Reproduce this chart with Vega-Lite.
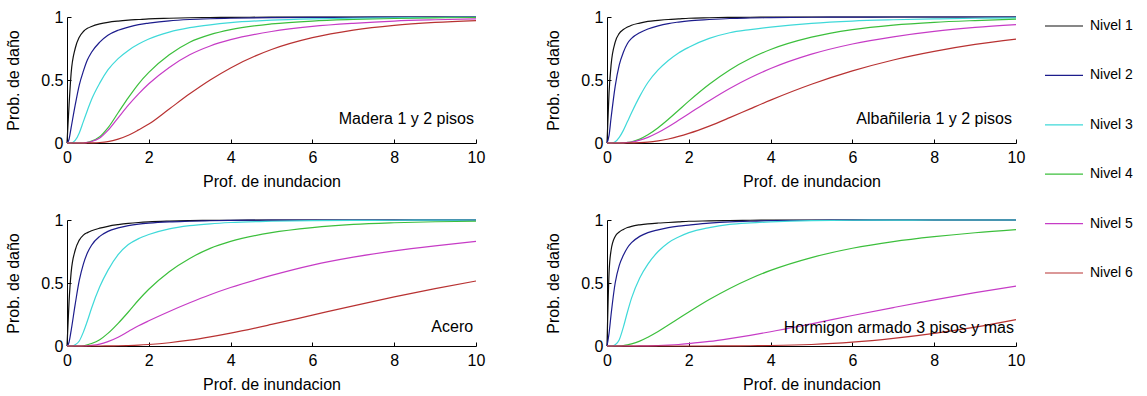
{
  "$schema": "https://vega.github.io/schema/vega-lite/v6.json",
  "padding": {"left": 5, "top": 6, "right": 5, "bottom": 5},
  "background": "white",
  "config": {
    "view": {"stroke": null},
    "font": "Liberation Sans",
    "axis": {
      "grid": false,
      "domainColor": "#000000",
      "tickColor": "#000000",
      "labelColor": "#000000",
      "titleColor": "#000000",
      "labelFont": "Liberation Sans",
      "titleFont": "Liberation Sans",
      "labelFontSize": 16,
      "titleFontSize": 16,
      "titleFontWeight": "normal",
      "tickSize": -4,
      "domainWidth": 1,
      "tickWidth": 1,
      "labelFlush": false
    },
    "axisX": {"labelPadding": 10, "titlePadding": 8},
    "axisY": {"labelPadding": 8, "titlePadding": 19},
    "legend": {"labelFont": "Liberation Sans", "labelFontSize": 14, "labelColor": "#000000"}
  },
  "data": {
    "values": [
      {"t":"Madera 1 y 2 pisos","x":0,"Nivel 1":0,"Nivel 2":0,"Nivel 3":0,"Nivel 4":0,"Nivel 5":0,"Nivel 6":0},
      {"t":"Madera 1 y 2 pisos","x":0.05,"Nivel 1":0.30,"Nivel 2":0.03,"Nivel 3":0,"Nivel 4":0,"Nivel 5":0,"Nivel 6":0},
      {"t":"Madera 1 y 2 pisos","x":0.1,"Nivel 1":0.55,"Nivel 2":0.12,"Nivel 3":0,"Nivel 4":0,"Nivel 5":0,"Nivel 6":0},
      {"t":"Madera 1 y 2 pisos","x":0.2,"Nivel 1":0.75,"Nivel 2":0.30,"Nivel 3":0.02,"Nivel 4":0,"Nivel 5":0,"Nivel 6":0},
      {"t":"Madera 1 y 2 pisos","x":0.3,"Nivel 1":0.84,"Nivel 2":0.46,"Nivel 3":0.08,"Nivel 4":0,"Nivel 5":0,"Nivel 6":0},
      {"t":"Madera 1 y 2 pisos","x":0.4,"Nivel 1":0.885,"Nivel 2":0.57,"Nivel 3":0.17,"Nivel 4":0,"Nivel 5":0,"Nivel 6":0},
      {"t":"Madera 1 y 2 pisos","x":0.5,"Nivel 1":0.91,"Nivel 2":0.66,"Nivel 3":0.26,"Nivel 4":0.005,"Nivel 5":0.005,"Nivel 6":0},
      {"t":"Madera 1 y 2 pisos","x":0.6,"Nivel 1":0.925,"Nivel 2":0.72,"Nivel 3":0.345,"Nivel 4":0.015,"Nivel 5":0.012,"Nivel 6":0.001},
      {"t":"Madera 1 y 2 pisos","x":0.8,"Nivel 1":0.945,"Nivel 2":0.80,"Nivel 3":0.475,"Nivel 4":0.05,"Nivel 5":0.04,"Nivel 6":0.004},
      {"t":"Madera 1 y 2 pisos","x":1,"Nivel 1":0.958,"Nivel 2":0.855,"Nivel 3":0.58,"Nivel 4":0.12,"Nivel 5":0.10,"Nivel 6":0.011},
      {"t":"Madera 1 y 2 pisos","x":1.25,"Nivel 1":0.968,"Nivel 2":0.895,"Nivel 3":0.67,"Nivel 4":0.24,"Nivel 5":0.20,"Nivel 6":0.031},
      {"t":"Madera 1 y 2 pisos","x":1.5,"Nivel 1":0.975,"Nivel 2":0.92,"Nivel 3":0.735,"Nivel 4":0.36,"Nivel 5":0.30,"Nivel 6":0.062},
      {"t":"Madera 1 y 2 pisos","x":1.75,"Nivel 1":0.98,"Nivel 2":0.94,"Nivel 3":0.785,"Nivel 4":0.47,"Nivel 5":0.39,"Nivel 6":0.104},
      {"t":"Madera 1 y 2 pisos","x":2,"Nivel 1":0.985,"Nivel 2":0.952,"Nivel 3":0.825,"Nivel 4":0.56,"Nivel 5":0.47,"Nivel 6":0.15},
      {"t":"Madera 1 y 2 pisos","x":2.5,"Nivel 1":0.99,"Nivel 2":0.97,"Nivel 3":0.88,"Nivel 4":0.70,"Nivel 5":0.60,"Nivel 6":0.27},
      {"t":"Madera 1 y 2 pisos","x":3,"Nivel 1":0.994,"Nivel 2":0.98,"Nivel 3":0.915,"Nivel 4":0.80,"Nivel 5":0.70,"Nivel 6":0.39},
      {"t":"Madera 1 y 2 pisos","x":3.5,"Nivel 1":0.996,"Nivel 2":0.986,"Nivel 3":0.938,"Nivel 4":0.86,"Nivel 5":0.77,"Nivel 6":0.50},
      {"t":"Madera 1 y 2 pisos","x":4,"Nivel 1":0.997,"Nivel 2":0.99,"Nivel 3":0.955,"Nivel 4":0.90,"Nivel 5":0.82,"Nivel 6":0.596},
      {"t":"Madera 1 y 2 pisos","x":5,"Nivel 1":0.999,"Nivel 2":0.995,"Nivel 3":0.975,"Nivel 4":0.945,"Nivel 5":0.885,"Nivel 6":0.742},
      {"t":"Madera 1 y 2 pisos","x":6,"Nivel 1":1,"Nivel 2":0.997,"Nivel 3":0.985,"Nivel 4":0.968,"Nivel 5":0.925,"Nivel 6":0.836},
      {"t":"Madera 1 y 2 pisos","x":7,"Nivel 1":1,"Nivel 2":0.998,"Nivel 3":0.99,"Nivel 4":0.98,"Nivel 5":0.95,"Nivel 6":0.896},
      {"t":"Madera 1 y 2 pisos","x":8,"Nivel 1":1,"Nivel 2":0.999,"Nivel 3":0.994,"Nivel 4":0.988,"Nivel 5":0.968,"Nivel 6":0.934},
      {"t":"Madera 1 y 2 pisos","x":9,"Nivel 1":1,"Nivel 2":1,"Nivel 3":0.996,"Nivel 4":0.993,"Nivel 5":0.978,"Nivel 6":0.957},
      {"t":"Madera 1 y 2 pisos","x":10,"Nivel 1":1,"Nivel 2":1,"Nivel 3":0.998,"Nivel 4":0.996,"Nivel 5":0.985,"Nivel 6":0.972},

      {"t":"Albañileria 1 y 2 pisos","x":0,"Nivel 1":0,"Nivel 2":0,"Nivel 3":0,"Nivel 4":0,"Nivel 5":0,"Nivel 6":0},
      {"t":"Albañileria 1 y 2 pisos","x":0.05,"Nivel 1":0.40,"Nivel 2":0.06,"Nivel 3":0,"Nivel 4":0,"Nivel 5":0,"Nivel 6":0},
      {"t":"Albañileria 1 y 2 pisos","x":0.1,"Nivel 1":0.62,"Nivel 2":0.20,"Nivel 3":0,"Nivel 4":0,"Nivel 5":0,"Nivel 6":0},
      {"t":"Albañileria 1 y 2 pisos","x":0.2,"Nivel 1":0.80,"Nivel 2":0.45,"Nivel 3":0.01,"Nivel 4":0,"Nivel 5":0,"Nivel 6":0},
      {"t":"Albañileria 1 y 2 pisos","x":0.3,"Nivel 1":0.87,"Nivel 2":0.62,"Nivel 3":0.045,"Nivel 4":0,"Nivel 5":0,"Nivel 6":0},
      {"t":"Albañileria 1 y 2 pisos","x":0.4,"Nivel 1":0.90,"Nivel 2":0.72,"Nivel 3":0.10,"Nivel 4":0.001,"Nivel 5":0.001,"Nivel 6":0},
      {"t":"Albañileria 1 y 2 pisos","x":0.5,"Nivel 1":0.92,"Nivel 2":0.79,"Nivel 3":0.17,"Nivel 4":0.005,"Nivel 5":0.004,"Nivel 6":0},
      {"t":"Albañileria 1 y 2 pisos","x":0.6,"Nivel 1":0.935,"Nivel 2":0.83,"Nivel 3":0.24,"Nivel 4":0.01,"Nivel 5":0.008,"Nivel 6":0.001},
      {"t":"Albañileria 1 y 2 pisos","x":0.8,"Nivel 1":0.952,"Nivel 2":0.875,"Nivel 3":0.37,"Nivel 4":0.031,"Nivel 5":0.023,"Nivel 6":0.003},
      {"t":"Albañileria 1 y 2 pisos","x":1,"Nivel 1":0.965,"Nivel 2":0.905,"Nivel 3":0.48,"Nivel 4":0.065,"Nivel 5":0.045,"Nivel 6":0.007},
      {"t":"Albañileria 1 y 2 pisos","x":1.25,"Nivel 1":0.973,"Nivel 2":0.93,"Nivel 3":0.58,"Nivel 4":0.121,"Nivel 5":0.083,"Nivel 6":0.017},
      {"t":"Albañileria 1 y 2 pisos","x":1.5,"Nivel 1":0.98,"Nivel 2":0.948,"Nivel 3":0.655,"Nivel 4":0.188,"Nivel 5":0.129,"Nivel 6":0.032},
      {"t":"Albañileria 1 y 2 pisos","x":1.75,"Nivel 1":0.985,"Nivel 2":0.96,"Nivel 3":0.715,"Nivel 4":0.26,"Nivel 5":0.18,"Nivel 6":0.052},
      {"t":"Albañileria 1 y 2 pisos","x":2,"Nivel 1":0.99,"Nivel 2":0.97,"Nivel 3":0.76,"Nivel 4":0.332,"Nivel 5":0.232,"Nivel 6":0.076},
      {"t":"Albañileria 1 y 2 pisos","x":2.5,"Nivel 1":0.994,"Nivel 2":0.98,"Nivel 3":0.83,"Nivel 4":0.466,"Nivel 5":0.336,"Nivel 6":0.134},
      {"t":"Albañileria 1 y 2 pisos","x":3,"Nivel 1":0.997,"Nivel 2":0.988,"Nivel 3":0.875,"Nivel 4":0.58,"Nivel 5":0.433,"Nivel 6":0.201},
      {"t":"Albañileria 1 y 2 pisos","x":3.5,"Nivel 1":0.998,"Nivel 2":0.992,"Nivel 3":0.90,"Nivel 4":0.67,"Nivel 5":0.518,"Nivel 6":0.271},
      {"t":"Albañileria 1 y 2 pisos","x":4,"Nivel 1":0.999,"Nivel 2":0.995,"Nivel 3":0.92,"Nivel 4":0.742,"Nivel 5":0.591,"Nivel 6":0.34},
      {"t":"Albañileria 1 y 2 pisos","x":5,"Nivel 1":1,"Nivel 2":0.998,"Nivel 3":0.95,"Nivel 4":0.84,"Nivel 5":0.705,"Nivel 6":0.466},
      {"t":"Albañileria 1 y 2 pisos","x":6,"Nivel 1":1,"Nivel 2":0.999,"Nivel 3":0.968,"Nivel 4":0.90,"Nivel 5":0.786,"Nivel 6":0.572},
      {"t":"Albañileria 1 y 2 pisos","x":7,"Nivel 1":1,"Nivel 2":1,"Nivel 3":0.978,"Nivel 4":0.936,"Nivel 5":0.843,"Nivel 6":0.659},
      {"t":"Albañileria 1 y 2 pisos","x":8,"Nivel 1":1,"Nivel 2":1,"Nivel 3":0.985,"Nivel 4":0.958,"Nivel 5":0.886,"Nivel 6":0.727},
      {"t":"Albañileria 1 y 2 pisos","x":9,"Nivel 1":1,"Nivel 2":1,"Nivel 3":0.99,"Nivel 4":0.972,"Nivel 5":0.917,"Nivel 6":0.782},
      {"t":"Albañileria 1 y 2 pisos","x":10,"Nivel 1":1,"Nivel 2":1,"Nivel 3":0.993,"Nivel 4":0.983,"Nivel 5":0.94,"Nivel 6":0.825},

      {"t":"Acero","x":0,"Nivel 1":0,"Nivel 2":0,"Nivel 3":0,"Nivel 4":0,"Nivel 5":0,"Nivel 6":0},
      {"t":"Acero","x":0.05,"Nivel 1":0.35,"Nivel 2":0.03,"Nivel 3":0,"Nivel 4":0,"Nivel 5":0,"Nivel 6":0},
      {"t":"Acero","x":0.1,"Nivel 1":0.58,"Nivel 2":0.12,"Nivel 3":0,"Nivel 4":0,"Nivel 5":0,"Nivel 6":0},
      {"t":"Acero","x":0.2,"Nivel 1":0.76,"Nivel 2":0.33,"Nivel 3":0.01,"Nivel 4":0,"Nivel 5":0,"Nivel 6":0},
      {"t":"Acero","x":0.3,"Nivel 1":0.84,"Nivel 2":0.52,"Nivel 3":0.04,"Nivel 4":0,"Nivel 5":0,"Nivel 6":0},
      {"t":"Acero","x":0.4,"Nivel 1":0.88,"Nivel 2":0.65,"Nivel 3":0.11,"Nivel 4":0.002,"Nivel 5":0,"Nivel 6":0},
      {"t":"Acero","x":0.5,"Nivel 1":0.90,"Nivel 2":0.74,"Nivel 3":0.20,"Nivel 4":0.01,"Nivel 5":0.002,"Nivel 6":0},
      {"t":"Acero","x":0.6,"Nivel 1":0.915,"Nivel 2":0.80,"Nivel 3":0.30,"Nivel 4":0.02,"Nivel 5":0.005,"Nivel 6":0},
      {"t":"Acero","x":0.8,"Nivel 1":0.935,"Nivel 2":0.87,"Nivel 3":0.47,"Nivel 4":0.05,"Nivel 5":0.015,"Nivel 6":0},
      {"t":"Acero","x":1,"Nivel 1":0.95,"Nivel 2":0.91,"Nivel 3":0.60,"Nivel 4":0.10,"Nivel 5":0.035,"Nivel 6":0.001},
      {"t":"Acero","x":1.25,"Nivel 1":0.963,"Nivel 2":0.937,"Nivel 3":0.725,"Nivel 4":0.18,"Nivel 5":0.07,"Nivel 6":0.002},
      {"t":"Acero","x":1.5,"Nivel 1":0.973,"Nivel 2":0.955,"Nivel 3":0.805,"Nivel 4":0.27,"Nivel 5":0.115,"Nivel 6":0.004},
      {"t":"Acero","x":1.75,"Nivel 1":0.98,"Nivel 2":0.967,"Nivel 3":0.852,"Nivel 4":0.365,"Nivel 5":0.16,"Nivel 6":0.007},
      {"t":"Acero","x":2,"Nivel 1":0.985,"Nivel 2":0.975,"Nivel 3":0.885,"Nivel 4":0.45,"Nivel 5":0.20,"Nivel 6":0.012},
      {"t":"Acero","x":2.5,"Nivel 1":0.991,"Nivel 2":0.985,"Nivel 3":0.93,"Nivel 4":0.59,"Nivel 5":0.274,"Nivel 6":0.026},
      {"t":"Acero","x":3,"Nivel 1":0.995,"Nivel 2":0.99,"Nivel 3":0.955,"Nivel 4":0.695,"Nivel 5":0.343,"Nivel 6":0.046},
      {"t":"Acero","x":3.5,"Nivel 1":0.997,"Nivel 2":0.994,"Nivel 3":0.97,"Nivel 4":0.775,"Nivel 5":0.407,"Nivel 6":0.072},
      {"t":"Acero","x":4,"Nivel 1":0.998,"Nivel 2":0.997,"Nivel 3":0.98,"Nivel 4":0.83,"Nivel 5":0.464,"Nivel 6":0.102},
      {"t":"Acero","x":5,"Nivel 1":1,"Nivel 2":0.999,"Nivel 3":0.99,"Nivel 4":0.90,"Nivel 5":0.56,"Nivel 6":0.171},
      {"t":"Acero","x":6,"Nivel 1":1,"Nivel 2":1,"Nivel 3":0.995,"Nivel 4":0.94,"Nivel 5":0.642,"Nivel 6":0.245},
      {"t":"Acero","x":7,"Nivel 1":1,"Nivel 2":1,"Nivel 3":0.997,"Nivel 4":0.965,"Nivel 5":0.705,"Nivel 6":0.319},
      {"t":"Acero","x":8,"Nivel 1":1,"Nivel 2":1,"Nivel 3":0.998,"Nivel 4":0.978,"Nivel 5":0.755,"Nivel 6":0.39},
      {"t":"Acero","x":9,"Nivel 1":1,"Nivel 2":1,"Nivel 3":0.999,"Nivel 4":0.986,"Nivel 5":0.795,"Nivel 6":0.456},
      {"t":"Acero","x":10,"Nivel 1":1,"Nivel 2":1,"Nivel 3":1,"Nivel 4":0.99,"Nivel 5":0.83,"Nivel 6":0.516},

      {"t":"Hormigon armado 3 pisos y mas","x":0,"Nivel 1":0,"Nivel 2":0,"Nivel 3":0,"Nivel 4":0,"Nivel 5":0,"Nivel 6":0},
      {"t":"Hormigon armado 3 pisos y mas","x":0.05,"Nivel 1":0.58,"Nivel 2":0.10,"Nivel 3":0,"Nivel 4":0,"Nivel 5":0,"Nivel 6":0},
      {"t":"Hormigon armado 3 pisos y mas","x":0.1,"Nivel 1":0.76,"Nivel 2":0.25,"Nivel 3":0,"Nivel 4":0,"Nivel 5":0,"Nivel 6":0},
      {"t":"Hormigon armado 3 pisos y mas","x":0.2,"Nivel 1":0.87,"Nivel 2":0.50,"Nivel 3":0.01,"Nivel 4":0,"Nivel 5":0,"Nivel 6":0},
      {"t":"Hormigon armado 3 pisos y mas","x":0.3,"Nivel 1":0.905,"Nivel 2":0.64,"Nivel 3":0.05,"Nivel 4":0.001,"Nivel 5":0,"Nivel 6":0},
      {"t":"Hormigon armado 3 pisos y mas","x":0.4,"Nivel 1":0.925,"Nivel 2":0.72,"Nivel 3":0.15,"Nivel 4":0.004,"Nivel 5":0,"Nivel 6":0},
      {"t":"Hormigon armado 3 pisos y mas","x":0.5,"Nivel 1":0.94,"Nivel 2":0.78,"Nivel 3":0.27,"Nivel 4":0.009,"Nivel 5":0,"Nivel 6":0},
      {"t":"Hormigon armado 3 pisos y mas","x":0.6,"Nivel 1":0.95,"Nivel 2":0.82,"Nivel 3":0.38,"Nivel 4":0.017,"Nivel 5":0,"Nivel 6":0},
      {"t":"Hormigon armado 3 pisos y mas","x":0.8,"Nivel 1":0.962,"Nivel 2":0.87,"Nivel 3":0.54,"Nivel 4":0.039,"Nivel 5":0.0005,"Nivel 6":0},
      {"t":"Hormigon armado 3 pisos y mas","x":1,"Nivel 1":0.97,"Nivel 2":0.90,"Nivel 3":0.65,"Nivel 4":0.07,"Nivel 5":0.0016,"Nivel 6":0},
      {"t":"Hormigon armado 3 pisos y mas","x":1.25,"Nivel 1":0.976,"Nivel 2":0.922,"Nivel 3":0.75,"Nivel 4":0.115,"Nivel 5":0.004,"Nivel 6":0},
      {"t":"Hormigon armado 3 pisos y mas","x":1.5,"Nivel 1":0.98,"Nivel 2":0.94,"Nivel 3":0.82,"Nivel 4":0.166,"Nivel 5":0.0074,"Nivel 6":0},
      {"t":"Hormigon armado 3 pisos y mas","x":1.75,"Nivel 1":0.985,"Nivel 2":0.952,"Nivel 3":0.865,"Nivel 4":0.218,"Nivel 5":0.012,"Nivel 6":0},
      {"t":"Hormigon armado 3 pisos y mas","x":2,"Nivel 1":0.99,"Nivel 2":0.96,"Nivel 3":0.90,"Nivel 4":0.27,"Nivel 5":0.019,"Nivel 6":0},
      {"t":"Hormigon armado 3 pisos y mas","x":2.5,"Nivel 1":0.993,"Nivel 2":0.975,"Nivel 3":0.94,"Nivel 4":0.369,"Nivel 5":0.036,"Nivel 6":0},
      {"t":"Hormigon armado 3 pisos y mas","x":3,"Nivel 1":0.996,"Nivel 2":0.985,"Nivel 3":0.965,"Nivel 4":0.457,"Nivel 5":0.059,"Nivel 6":0.001},
      {"t":"Hormigon armado 3 pisos y mas","x":3.5,"Nivel 1":0.998,"Nivel 2":0.99,"Nivel 3":0.977,"Nivel 4":0.534,"Nivel 5":0.085,"Nivel 6":0.002},
      {"t":"Hormigon armado 3 pisos y mas","x":4,"Nivel 1":0.999,"Nivel 2":0.995,"Nivel 3":0.985,"Nivel 4":0.60,"Nivel 5":0.113,"Nivel 6":0.004},
      {"t":"Hormigon armado 3 pisos y mas","x":5,"Nivel 1":1,"Nivel 2":0.998,"Nivel 3":0.995,"Nivel 4":0.702,"Nivel 5":0.176,"Nivel 6":0.012},
      {"t":"Hormigon armado 3 pisos y mas","x":6,"Nivel 1":1,"Nivel 2":0.999,"Nivel 3":0.998,"Nivel 4":0.776,"Nivel 5":0.242,"Nivel 6":0.03},
      {"t":"Hormigon armado 3 pisos y mas","x":7,"Nivel 1":1,"Nivel 2":1,"Nivel 3":0.999,"Nivel 4":0.829,"Nivel 5":0.305,"Nivel 6":0.06},
      {"t":"Hormigon armado 3 pisos y mas","x":8,"Nivel 1":1,"Nivel 2":1,"Nivel 3":1,"Nivel 4":0.868,"Nivel 5":0.366,"Nivel 6":0.10},
      {"t":"Hormigon armado 3 pisos y mas","x":9,"Nivel 1":1,"Nivel 2":1,"Nivel 3":1,"Nivel 4":0.899,"Nivel 5":0.423,"Nivel 6":0.15},
      {"t":"Hormigon armado 3 pisos y mas","x":10,"Nivel 1":1,"Nivel 2":1,"Nivel 3":1,"Nivel 4":0.923,"Nivel 5":0.475,"Nivel 6":0.21}
    ]
  },
  "transform": [
    {"fold": ["Nivel 1", "Nivel 2", "Nivel 3", "Nivel 4", "Nivel 5", "Nivel 6"], "as": ["nivel", "p"]}
  ],
  "columns": 2,
  "spacing": {"column": 60, "row": 23},
  "concat": [
    {
      "transform": [{"filter": "datum.t == 'Madera 1 y 2 pisos'"}],
      "width": 409, "height": 126,
      "layer": [
        {
          "mark": {"type": "line", "interpolate": "monotone", "strokeWidth": 1.2},
          "encoding": {
            "x": {"field": "x", "type": "quantitative", "scale": {"domain": [0, 10], "nice": false}, "axis": {"values": [0, 2, 4, 6, 8, 10], "title": "Prof. de inundacion"}},
            "y": {"field": "p", "type": "quantitative", "scale": {"domain": [0, 1], "nice": false}, "axis": {"values": [0, 0.5, 1], "format": "~g", "title": "Prob. de daño"}},
            "color": {"field": "nivel", "type": "nominal",
              "scale": {"domain": ["Nivel 1", "Nivel 2", "Nivel 3", "Nivel 4", "Nivel 5", "Nivel 6"], "range": ["#111111", "#1c1c8c", "#3fd9d9", "#3cbf3c", "#c63cc6", "#b83232"]},
              "legend": {"title": null, "orient": "none", "legendX": 977, "legendY": -11, "symbolType": "stroke", "symbolSize": 1444, "symbolStrokeWidth": 1.2, "rowPadding": 22.4, "labelOffset": 6}}
          }
        },
        {
          "transform": [{"filter": "datum.x == 10 && datum.nivel == 'Nivel 1'"}],
          "mark": {"type": "text", "align": "right", "baseline": "middle", "fontSize": 16, "font": "Liberation Sans", "color": "#000000"},
          "encoding": {"x": {"datum": 9.95, "type": "quantitative"}, "y": {"datum": 0.19, "type": "quantitative"}, "text": {"field": "t", "type": "nominal"}}
        }
      ]
    },
    {
      "transform": [{"filter": "datum.t == 'Albañileria 1 y 2 pisos'"}],
      "width": 409, "height": 126,
      "layer": [
        {
          "mark": {"type": "line", "interpolate": "monotone", "strokeWidth": 1.2},
          "encoding": {
            "x": {"field": "x", "type": "quantitative", "scale": {"domain": [0, 10], "nice": false}, "axis": {"values": [0, 2, 4, 6, 8, 10], "title": "Prof. de inundacion"}},
            "y": {"field": "p", "type": "quantitative", "scale": {"domain": [0, 1], "nice": false}, "axis": {"values": [0, 0.5, 1], "format": "~g", "title": "Prob. de daño"}},
            "color": {"field": "nivel", "type": "nominal"}
          }
        },
        {
          "transform": [{"filter": "datum.x == 10 && datum.nivel == 'Nivel 1'"}],
          "mark": {"type": "text", "align": "right", "baseline": "middle", "fontSize": 16, "font": "Liberation Sans", "color": "#000000"},
          "encoding": {"x": {"datum": 9.9, "type": "quantitative"}, "y": {"datum": 0.19, "type": "quantitative"}, "text": {"field": "t", "type": "nominal"}}
        }
      ]
    },
    {
      "transform": [{"filter": "datum.t == 'Acero'"}],
      "width": 409, "height": 126,
      "layer": [
        {
          "mark": {"type": "line", "interpolate": "monotone", "strokeWidth": 1.2},
          "encoding": {
            "x": {"field": "x", "type": "quantitative", "scale": {"domain": [0, 10], "nice": false}, "axis": {"values": [0, 2, 4, 6, 8, 10], "title": "Prof. de inundacion"}},
            "y": {"field": "p", "type": "quantitative", "scale": {"domain": [0, 1], "nice": false}, "axis": {"values": [0, 0.5, 1], "format": "~g", "title": "Prob. de daño"}},
            "color": {"field": "nivel", "type": "nominal"}
          }
        },
        {
          "transform": [{"filter": "datum.x == 10 && datum.nivel == 'Nivel 1'"}],
          "mark": {"type": "text", "align": "right", "baseline": "middle", "fontSize": 16, "font": "Liberation Sans", "color": "#000000"},
          "encoding": {"x": {"datum": 9.93, "type": "quantitative"}, "y": {"datum": 0.15, "type": "quantitative"}, "text": {"field": "t", "type": "nominal"}}
        }
      ]
    },
    {
      "transform": [{"filter": "datum.t == 'Hormigon armado 3 pisos y mas'"}],
      "width": 409, "height": 126,
      "layer": [
        {
          "mark": {"type": "line", "interpolate": "monotone", "strokeWidth": 1.2},
          "encoding": {
            "x": {"field": "x", "type": "quantitative", "scale": {"domain": [0, 10], "nice": false}, "axis": {"values": [0, 2, 4, 6, 8, 10], "title": "Prof. de inundacion"}},
            "y": {"field": "p", "type": "quantitative", "scale": {"domain": [0, 1], "nice": false}, "axis": {"values": [0, 0.5, 1], "format": "~g", "title": "Prob. de daño"}},
            "color": {"field": "nivel", "type": "nominal"}
          }
        },
        {
          "transform": [{"filter": "datum.x == 10 && datum.nivel == 'Nivel 1'"}],
          "mark": {"type": "text", "align": "right", "baseline": "middle", "fontSize": 16, "font": "Liberation Sans", "color": "#000000"},
          "encoding": {"x": {"datum": 9.95, "type": "quantitative"}, "y": {"datum": 0.14, "type": "quantitative"}, "text": {"field": "t", "type": "nominal"}}
        }
      ]
    }
  ]
}
